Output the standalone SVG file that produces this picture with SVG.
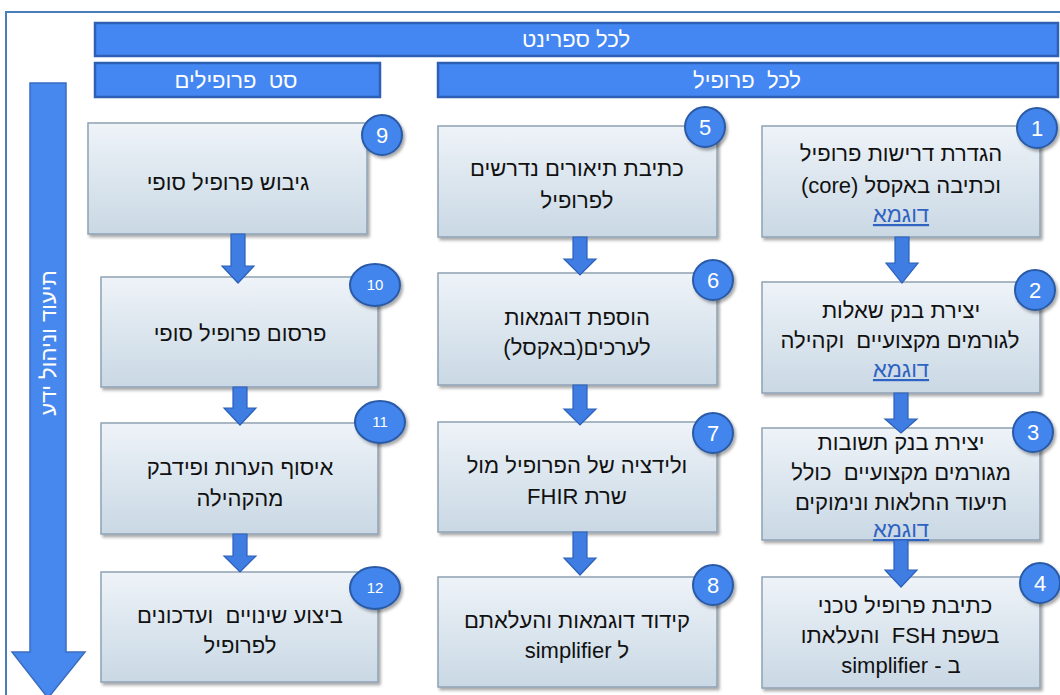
<svg xmlns="http://www.w3.org/2000/svg" width="1060" height="695" viewBox="0 0 1060 695">
<defs>
  <linearGradient id="boxGrad" x1="0" y1="0" x2="0" y2="1">
    <stop offset="0" stop-color="#eef3f8"/>
    <stop offset="1" stop-color="#c9d8e4"/>
  </linearGradient>
  <filter id="shadow" x="-10%" y="-10%" width="125%" height="130%">
    <feDropShadow dx="2" dy="2.5" stdDeviation="1.5" flood-color="#000" flood-opacity="0.35"/>
  </filter>
</defs>
<style>
  .box { fill: url(#boxGrad); stroke: #8ea2b4; stroke-width: 1.5; filter: url(#shadow); }
  .banner { fill: #4487f2; stroke: #2d5fb4; stroke-width: 2.5; }
  .btxt { font-family: "Liberation Sans", "DejaVu Sans", sans-serif; font-size: 22px; fill: #ffffff; text-anchor: middle; direction: rtl; white-space: pre; }
  .t { font-family: "Liberation Sans", "DejaVu Sans", sans-serif; font-size: 22px; fill: #111111; text-anchor: middle; direction: rtl; white-space: pre; }
  .link { fill: #2f63c2; text-decoration: underline; }
  .num { fill: #4285ec; stroke: #2a5aa6; stroke-width: 2; filter: url(#shadow); }
  .ntxt { font-family: "Liberation Sans", "DejaVu Sans", sans-serif; font-size: 22px; fill: #ffffff; text-anchor: middle; }
  .ntxs { font-family: "Liberation Sans", "DejaVu Sans", sans-serif; font-size: 15px; fill: #ffffff; text-anchor: middle; }
  .arr { fill: #3f7de3; stroke: #2c60b8; stroke-width: 1.2; }
</style>

<rect x="0" y="0" width="1060" height="695" fill="#ffffff"/>
<!-- frame -->
<path d="M6 695 V12 H1060" fill="none" stroke="#4a7ebb" stroke-width="2"/>

<!-- banners -->
<g id="banner-sprint">
  <rect class="banner" x="95" y="23" width="963" height="33"/>
  <text class="btxt" x="576" y="47">לכל ספרינט</text>
</g>
<g id="banner-set">
  <rect class="banner" x="95" y="63" width="285" height="34"/>
  <text class="btxt" x="236" y="88">סט  פרופילים</text>
</g>
<g id="banner-profile">
  <rect class="banner" x="438" y="63" width="620" height="34"/>
  <text class="btxt" x="747" y="88">לכל  פרופיל</text>
</g>

<!-- knowledge arrow -->
<g id="knowledge">
  <path d="M30 83 H66 V652 H85 L48 698 L12 652 H30 Z" fill="#4788ee" stroke="#3a6cc0" stroke-width="1.5"/>
  <text transform="translate(48 343) rotate(-90)" font-family="Liberation Sans, DejaVu Sans, sans-serif" font-size="22" fill="#ffffff" text-anchor="middle" direction="rtl" dy="8">תיעוד וניהול ידע</text>
</g>

<!-- column: per profile (right) -->
<g id="n1">
  <rect class="box" x="762" y="126" width="278" height="111"/>
  <text class="t" x="901" y="161">הגדרת דרישות פרופיל</text>
  <text class="t" x="901" y="193">וכתיבה באקסל (core)</text>
  <text class="t link" x="901" y="222">דוגמא</text>
  <circle class="num" cx="1037" cy="128" r="20"/>
  <text class="ntxt" x="1037" y="136">1</text>
</g>
<g id="n2">
  <rect class="box" x="762" y="282" width="278" height="111"/>
  <text class="t" x="901" y="318">יצירת בנק שאלות</text>
  <text class="t" x="900" y="348">לגורמים מקצועיים  וקהילה</text>
  <text class="t link" x="901" y="377">דוגמא</text>
  <circle class="num" cx="1035" cy="290" r="20"/>
  <text class="ntxt" x="1035" y="298">2</text>
</g>
<g id="n3">
  <rect class="box" x="762" y="428" width="278" height="112"/>
  <text class="t" x="901" y="450">יצירת בנק תשובות</text>
  <text class="t" x="901" y="480">מגורמים מקצועיים  כולל</text>
  <text class="t" x="901" y="510">תיעוד החלאות ונימוקים</text>
  <text class="t link" x="901" y="537">דוגמא</text>
  <circle class="num" cx="1033" cy="432" r="20"/>
  <text class="ntxt" x="1033" y="440">3</text>
</g>
<g id="n4">
  <rect class="box" x="762" y="577" width="278" height="111"/>
  <text class="t" x="905" y="613">כתיבת פרופיל טכני</text>
  <text class="t" x="900" y="643">בשפת FSH  והעלאתו</text>
  <text class="t" x="901" y="673">ב - simplifier</text>
  <circle class="num" cx="1040" cy="583" r="20"/>
  <text class="ntxt" x="1040" y="591">4</text>
</g>

<!-- column: per profile (middle) -->
<g id="n5">
  <rect class="box" x="438" y="126" width="279" height="111"/>
  <text class="t" x="577" y="176">כתיבת תיאורים נדרשים</text>
  <text class="t" x="577" y="208">לפרופיל</text>
  <circle class="num" cx="705" cy="127" r="20"/>
  <text class="ntxt" x="705" y="135">5</text>
</g>
<g id="n6">
  <rect class="box" x="438" y="273" width="279" height="112"/>
  <text class="t" x="577" y="325">הוספת דוגמאות</text>
  <text class="t" x="577" y="355">לערכים(באקסל)</text>
  <circle class="num" cx="713" cy="280" r="20"/>
  <text class="ntxt" x="713" y="288">6</text>
</g>
<g id="n7">
  <rect class="box" x="438" y="422" width="279" height="110"/>
  <text class="t" x="577" y="473">ולידציה של הפרופיל מול</text>
  <text class="t" x="577" y="504">שרת FHIR</text>
  <circle class="num" cx="713" cy="433" r="20"/>
  <text class="ntxt" x="713" y="441">7</text>
</g>
<g id="n8">
  <rect class="box" x="438" y="577" width="279" height="110"/>
  <text class="t" x="577" y="628">קידוד דוגמאות והעלאתם</text>
  <text class="t" x="577" y="658">ל simplifier</text>
  <circle class="num" cx="713" cy="585" r="20"/>
  <text class="ntxt" x="713" y="593">8</text>
</g>

<!-- column: profile set (left) -->
<g id="n9">
  <rect class="box" x="88" y="123" width="279" height="111"/>
  <text class="t" x="228" y="190">גיבוש פרופיל סופי</text>
  <circle class="num" cx="382" cy="135" r="20"/>
  <text class="ntxt" x="382" y="143">9</text>
</g>
<g id="n10">
  <rect class="box" x="101" y="277" width="277" height="110"/>
  <text class="t" x="240" y="341">פרסום פרופיל סופי</text>
  <ellipse class="num" cx="375" cy="285" rx="25" ry="21"/>
  <text class="ntxs" x="375" y="290">10</text>
</g>
<g id="n11">
  <rect class="box" x="101" y="423" width="277" height="111"/>
  <text class="t" x="240" y="475">איסוף הערות ופידבק</text>
  <text class="t" x="240" y="506">מהקהילה</text>
  <ellipse class="num" cx="380" cy="422" rx="25" ry="21"/>
  <text class="ntxs" x="380" y="427">11</text>
</g>
<g id="n12">
  <rect class="box" x="101" y="572" width="277" height="110"/>
  <text class="t" x="240" y="623">ביצוע שינויים  ועדכונים</text>
  <text class="t" x="240" y="653">לפרופיל</text>
  <ellipse class="num" cx="375" cy="588" rx="25" ry="21"/>
  <text class="ntxs" x="375" y="593">12</text>
</g>

<!-- connectors -->
<g id="connectors">
  <path class="arr" d="M895 237 H909 V263 H918 L902 283 L886 263 H895 Z"/>
  <path class="arr" d="M894 393 H908 V419 H917 L901 433 L885 419 H894 Z"/>
  <path class="arr" d="M894 540 H908 V570 H917 L901 587 L885 570 H894 Z"/>
  <path class="arr" d="M573 237 H587 V259 H596 L580 275 L564 259 H573 Z"/>
  <path class="arr" d="M573 385 H587 V409 H596 L580 425 L564 409 H573 Z"/>
  <path class="arr" d="M573 532 H587 V558 H596 L580 575 L564 558 H573 Z"/>
  <path class="arr" d="M231 234 H245 V266 H254 L238 283 L222 266 H231 Z"/>
  <path class="arr" d="M233 387 H247 V408 H256 L240 425 L224 408 H233 Z"/>
  <path class="arr" d="M233 534 H247 V556 H256 L240 572 L224 556 H233 Z"/>
</g>
</svg>
